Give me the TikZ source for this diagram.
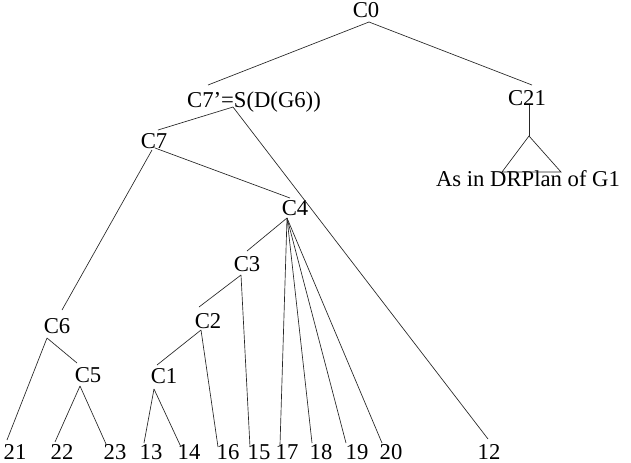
\documentclass[tikz,border=0pt]{standalone}
\usepackage{fontspec}
\setmainfont{Liberation Serif}
\begin{document}
\begin{tikzpicture}[x=0.75pt,y=-0.75pt,
  lbl/.style={anchor=base,inner sep=0pt,font=\fontsize{17}{20}\selectfont},
  edge/.style={line width=0.5pt,draw=black!85}]
\useasboundingbox (0,0) rectangle (631,462);
% labels
\node[lbl] (c0)  at (366,17)  {C0};
\node[lbl] (c7p) at (254,107) {C7'=S(D(G6))};
\node[lbl] (c21) at (527,105) {C21};
\node[lbl] (asin) at (528,186) {As in DRPlan of G1};
\node[lbl] (c7)  at (154,148) {C7};
\node[lbl] (c4)  at (295,215) {C4};
\node[lbl] (c3)  at (247,271) {C3};
\node[lbl] (c2)  at (208,328) {C2};
\node[lbl] (c6)  at (57,333)  {C6};
\node[lbl] (c5)  at (88,382)  {C5};
\node[lbl] (c1)  at (164,383) {C1};
\foreach \n/\x in {21/15,22/62,23/115,13/151,14/189,16/228,15/259,17/287,18/321,19/357,20/391,12/489}
  \node[lbl] (l\n) at (\x,459) {\n};
% ports
\coordinate (c0-s)  at (369,22);
\coordinate (c7p-n) at (208,85);
\coordinate (c21-n) at (532,85);
\coordinate (c21-s) at (529,105);
\coordinate (c7p-s) at (233,107);
\coordinate (c7-n)  at (158,130);
\coordinate (c7-s)  at (155,148);
\coordinate (c7-sw) at (152,150);
\coordinate (c4-n)  at (290,198);
\coordinate (c4-s)  at (287,218);
\coordinate (c3-n)  at (247,251);
\coordinate (c3-s)  at (241,275);
\coordinate (c2-n)  at (199,307);
\coordinate (c2-s)  at (201,330);
\coordinate (c1-n)  at (157,365);
\coordinate (c1-s)  at (154,389);
\coordinate (c6-n)  at (62,310);
\coordinate (c6-s)  at (47,338);
\coordinate (c5-n)  at (77,363);
\coordinate (c5-s)  at (80,386);
\coordinate (l21-n) at (7,440);
\coordinate (l22-n) at (55,442);
\coordinate (l23-n) at (106,444);
\coordinate (l13-n) at (144,443);
\coordinate (l14-n) at (181,447);
\coordinate (l16-n) at (218,447);
\coordinate (l15-n) at (250,447);
\coordinate (l17-n) at (280,445);
\coordinate (l18-n) at (312,443);
\coordinate (l19-n) at (346,443);
\coordinate (l20-n) at (382,443);
\coordinate (l12-n) at (488,439);
\coordinate (tri-t) at (529,136);
\coordinate (tri-l) at (502,172);
\coordinate (tri-r) at (561,172);
% connectors
\draw[edge] (c0-s) -- (c7p-n);
\draw[edge] (c0-s) -- (c21-n);
\draw[edge] (c7p-s) -- (c7-n);
\draw[edge] (c7p-s) -- (l12-n);
\draw[edge] (c7-s) -- (c4-n);
\draw[edge] (c7-sw) -- (c6-n);
\draw[edge] (c4-s) -- (c3-n);
\foreach \l in {17,18,19,20} \draw[edge] (c4-s) -- (l\l-n);
\draw[edge] (c3-s) -- (c2-n);
\draw[edge] (c3-s) -- (l15-n);
\draw[edge] (c2-s) -- (c1-n);
\draw[edge] (c2-s) -- (l16-n);
\draw[edge] (c1-s) -- (l13-n);
\draw[edge] (c1-s) -- (l14-n);
\draw[edge] (c6-s) -- (l21-n);
\draw[edge] (c6-s) -- (c5-n);
\draw[edge] (c5-s) -- (l22-n);
\draw[edge] (c5-s) -- (l23-n);
\draw[edge] (c21-s) -- (tri-t);
\draw[edge] (tri-t) -- (tri-l) -- (tri-r) -- cycle;
\end{tikzpicture}
\end{document}
